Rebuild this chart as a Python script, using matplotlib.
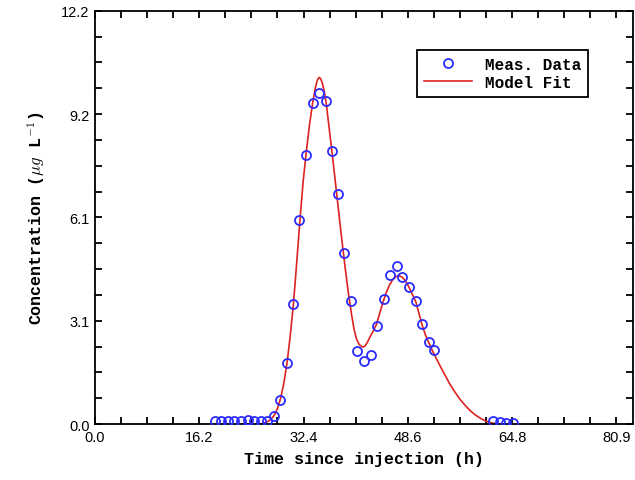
import numpy as np
from matplotlib import pyplot as plt
from matplotlib.ticker import FixedLocator, MultipleLocator

# measured points (h, ug/L)
meas_t = [18.6, 19.6, 20.6, 21.6, 22.6, 23.7, 24.7, 25.7, 26.7, 27.8,
          28.7, 29.8, 30.8, 31.7, 32.8, 33.8, 34.8, 35.9, 36.8, 37.7,
          38.7, 39.7, 40.7, 41.8, 42.8, 43.7, 44.8, 45.8, 46.8, 47.7,
          48.8, 49.8, 50.7, 51.8, 52.6, 61.8, 62.8, 63.8, 64.8]
meas_c = [0.10, 0.10, 0.10, 0.10, 0.10, 0.12, 0.10, 0.10, 0.10, 0.25,
          0.72, 1.79, 3.54, 6.02, 7.94, 9.49, 9.78, 9.54, 8.06, 6.78,
          5.06, 3.64, 2.16, 1.87, 2.05, 2.88, 3.70, 4.40, 4.65, 4.35,
          4.03, 3.64, 2.95, 2.43, 2.18, 0.10, 0.05, 0.03, 0.03]

# model fit curve
fit_t = [25.6, 26.5, 27.2, 27.8, 28.3, 28.8, 29.3, 29.8, 30.3, 30.8,
         31.3, 31.8, 32.3, 32.8, 33.3, 33.8, 34.2, 34.5, 34.8, 35.0,
         35.3, 35.6, 35.9, 36.3, 36.8, 37.3, 37.8, 38.3, 38.8, 39.3,
         39.8, 40.2, 40.6, 41.0, 41.5, 41.9, 42.3, 42.7, 43.2, 43.7,
         44.2, 44.7, 45.2, 45.7, 46.2, 46.7, 47.2, 47.7, 48.2, 48.7,
         49.2, 49.8, 50.3, 50.8, 51.3, 51.8, 52.4, 53.0, 53.6, 54.3,
         55.0, 55.8, 56.6, 57.4, 58.2, 59.0, 59.8, 60.6, 61.4, 62.4]
fit_c = [0.0, 0.04, 0.12, 0.25, 0.45, 0.75, 1.2, 1.8, 2.6, 3.55,
         4.75, 6.0, 7.15, 8.05, 8.85, 9.5, 9.92, 10.15, 10.23, 10.2,
         10.05, 9.8, 9.45, 8.8, 8.0, 7.15, 6.3, 5.45, 4.65, 3.9,
         3.25, 2.8, 2.5, 2.35, 2.27, 2.3, 2.42, 2.58, 2.75, 2.95,
         3.28, 3.6, 3.88, 4.1, 4.26, 4.35, 4.38, 4.33, 4.22, 4.05,
         3.85, 3.6, 3.25, 2.9, 2.62, 2.4, 2.15, 1.92, 1.7, 1.45,
         1.2, 0.96, 0.74, 0.56, 0.4, 0.27, 0.17, 0.09, 0.04, 0.0]

x_ticks = [0.0, 16.18, 32.36, 48.54, 64.72, 80.9]
x_labels = ['0.0', '16.2', '32.4', '48.6', '64.8', '80.9']
y_ticks = [0.0, 3.05, 6.1, 9.15, 12.2]
y_labels = ['0.0', '3.1', '6.1', '9.2', '12.2']

lab_font = dict(family='Liberation Mono', weight='bold', size=12)
plt.rcParams['mathtext.fontset'] = 'cm'

fig = plt.figure(figsize=(6.35, 4.81), dpi=100)
ax = fig.add_axes([0.1496, 0.1164, 0.8473, 0.8593])

ax.plot(fit_t, fit_c, color='#dd2222', lw=1.2, label='Model Fit', zorder=2)
ax.plot(meas_t, meas_c, 'o', mfc='none', mec='#2b2bff', mew=1.3, ms=6.5,
        label='Meas. Data', zorder=3)

ax.set_xlim(0, 83.5)
ax.set_ylim(0, 12.2)
ax.xaxis.set_major_locator(FixedLocator(x_ticks))
ax.set_xticklabels(x_labels)
ax.xaxis.set_minor_locator(MultipleLocator(80.9 / 20))
ax.yaxis.set_major_locator(FixedLocator(y_ticks))
ax.set_yticklabels(y_labels)
ax.yaxis.set_minor_locator(MultipleLocator(12.2 / 16))
ax.tick_params(which='both', direction='in', top=True, right=True,
               length=5, width=1.3, labelsize=10.5, pad=4)
for sp in ax.spines.values():
    sp.set_linewidth(1.3)
for t in ax.get_xticklabels() + ax.get_yticklabels():
    t.set_family('Liberation Sans')

ax.set_xlabel('Time since injection (h)', fontdict=lab_font, labelpad=5)
ax.set_ylabel('Concentration ($\\mu g$ L$^{-1}$)', fontdict=lab_font, labelpad=10)

handles, labels = ax.get_legend_handles_labels()
leg = ax.legend(handles[::-1], labels[::-1], loc='upper left',
                bbox_to_anchor=(0.598, 0.906), fancybox=False, framealpha=1,
                edgecolor='black', handlelength=3.0, borderpad=0.45,
                labelspacing=0.2, handletextpad=0.8, borderaxespad=0,
                prop=dict(family='Liberation Mono', weight='bold', size=11.5))
leg.get_frame().set_linewidth(1.3)

fig.savefig('out.png', dpi=100)
